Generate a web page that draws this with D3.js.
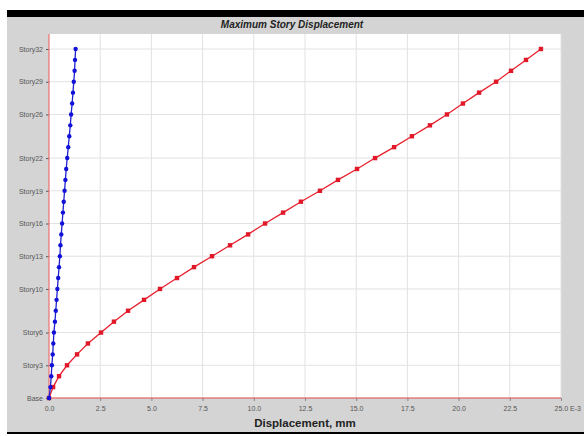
<!DOCTYPE html>
<html>
<head>
<meta charset="utf-8">
<script src="https://cdn.jsdelivr.net/npm/d3@7"></script>
<style>
  body { margin: 0; background: #fff; }
  svg { display: block; font-family: "Liberation Sans", Arial, sans-serif; }
</style>
</head>
<body>
<div class="container"></div>
<script>
// Story levels (Base = 0 .. Story32)
const stories = d3.range(0, 33).map(i => i === 0 ? 'Base' : 'Story' + i)
const storyTicks = ['Base', 'Story3', 'Story6', 'Story10', 'Story13', 'Story16', 'Story19', 'Story22', 'Story26', 'Story29', 'Story32']
const xTicks = [0, 2.5, 5, 7.5, 10, 12.5, 15, 17.5, 20, 22.5, 25]

// displacement (mm), Base to Story32
const dispX = [0, 0.20, 0.49, 0.88, 1.37, 1.90, 2.54, 3.17, 3.86, 4.64, 5.42, 6.25, 7.08, 7.96, 8.84, 9.72,
  10.55, 11.43, 12.30, 13.23, 14.11, 15.04, 15.92, 16.85, 17.72, 18.60, 19.43, 20.21, 21.00, 21.83, 22.56, 23.29, 24.02]
const dispY = [0, 0.07, 0.11, 0.14, 0.18, 0.21, 0.24, 0.29, 0.33, 0.37, 0.41, 0.45, 0.49, 0.53, 0.56, 0.60,
  0.64, 0.68, 0.72, 0.76, 0.80, 0.84, 0.89, 0.94, 0.99, 1.04, 1.08, 1.13, 1.17, 1.21, 1.25, 1.27, 1.30]

const width = 584
const height = 436
const plot = {left: 49, right: 561, top: 34, bottom: 398}

const svg = d3.select('.container')
    .append('svg')
    .attr('width', width)
    .attr('height', height)

// frame
svg.append('rect').attr('x', 7).attr('y', 10).attr('width', width - 7).attr('height', 424).attr('fill', '#000')
svg.append('rect').attr('x', 7).attr('y', 17).attr('width', width - 7).attr('height', 415).attr('fill', '#d4d4d4')
svg.append('rect')
    .attr('x', plot.left).attr('y', plot.top)
    .attr('width', plot.right - plot.left).attr('height', plot.bottom - plot.top)
    .attr('fill', '#fff')

const x = d3.scaleLinear().domain([0, 25]).range([plot.left, plot.right])
const y = d3.scaleLinear().domain([0, 32]).range([plot.bottom, 49])

// grid
svg.append('g').selectAll('line')
    .data(xTicks.slice(1))
    .enter().append('line')
    .attr('x1', d => x(d)).attr('x2', d => x(d))
    .attr('y1', plot.top).attr('y2', plot.bottom)
    .attr('stroke', '#e2e2e2')

svg.append('g').selectAll('line')
    .data(storyTicks.slice(1))
    .enter().append('line')
    .attr('x1', plot.left).attr('x2', plot.right)
    .attr('y1', d => y(stories.indexOf(d))).attr('y2', d => y(stories.indexOf(d)))
    .attr('stroke', '#e2e2e2')

// y axis
const yAxis = svg.append('g')
    .attr('transform', `translate(${plot.left},0)`)
    .call(d3.axisLeft(y)
        .tickValues(storyTicks.map(s => stories.indexOf(s)))
        .tickFormat(i => stories[i])
        .tickSize(3)
        .tickPadding(3))
yAxis.select('.domain').remove()
yAxis.selectAll('.tick line').attr('stroke', '#555')
yAxis.selectAll('.tick text').attr('fill', '#555').style('font-size', '7px')

// x axis
const xAxis = svg.append('g')
    .attr('transform', `translate(0,${plot.bottom})`)
    .call(d3.axisBottom(x)
        .tickValues(xTicks)
        .tickFormat(d => d3.format('.1f')(d))
        .tickSize(3)
        .tickPadding(5))
xAxis.select('.domain').remove()
xAxis.selectAll('.tick line').attr('stroke', '#888')
xAxis.selectAll('.tick text').attr('fill', '#555').style('font-size', '7px')
xAxis.selectAll('.tick text').filter(d => d === 25)
    .attr('text-anchor', 'start').attr('dx', -7)
    .text('25.0 E-3')

// red axis lines
svg.append('line').attr('x1', plot.left).attr('x2', plot.left).attr('y1', plot.top).attr('y2', plot.bottom)
    .attr('stroke', '#e87070').attr('stroke-width', 1.2)
svg.append('line').attr('x1', plot.left).attr('x2', plot.right).attr('y1', plot.bottom).attr('y2', plot.bottom)
    .attr('stroke', '#e04848').attr('stroke-width', 1.2)

// series
const line = d3.line().x(d => x(d)).y((d, i) => y(i))

svg.append('path').datum(dispX)
    .attr('d', line).attr('fill', 'none')
    .attr('stroke', '#e8202e').attr('stroke-width', 1.3)
svg.append('g').selectAll('rect')
    .data(dispX)
    .enter().append('rect')
    .attr('x', d => x(d) - 2.2).attr('y', (d, i) => y(i) - 2.2)
    .attr('width', 4.4).attr('height', 4.4)
    .attr('fill', '#e01828')

svg.append('path').datum(dispY)
    .attr('d', line).attr('fill', 'none')
    .attr('stroke', '#2020d0').attr('stroke-width', 1.3)
svg.append('g').selectAll('circle')
    .data(dispY)
    .enter().append('circle')
    .attr('cx', d => x(d)).attr('cy', (d, i) => y(i))
    .attr('r', 2.2)
    .attr('fill', '#1010d8')

// titles
svg.append('text')
    .attr('x', 292).attr('y', 28)
    .attr('text-anchor', 'middle')
    .style('font-size', '10px').style('font-weight', 'bold').style('font-style', 'italic')
    .attr('fill', '#222')
    .text('Maximum Story Displacement')

svg.append('text')
    .attr('x', 305).attr('y', 427)
    .attr('text-anchor', 'middle')
    .style('font-size', '11.5px').style('font-weight', 'bold')
    .attr('fill', '#222')
    .text('Displacement, mm')
</script>
</body>
</html>
